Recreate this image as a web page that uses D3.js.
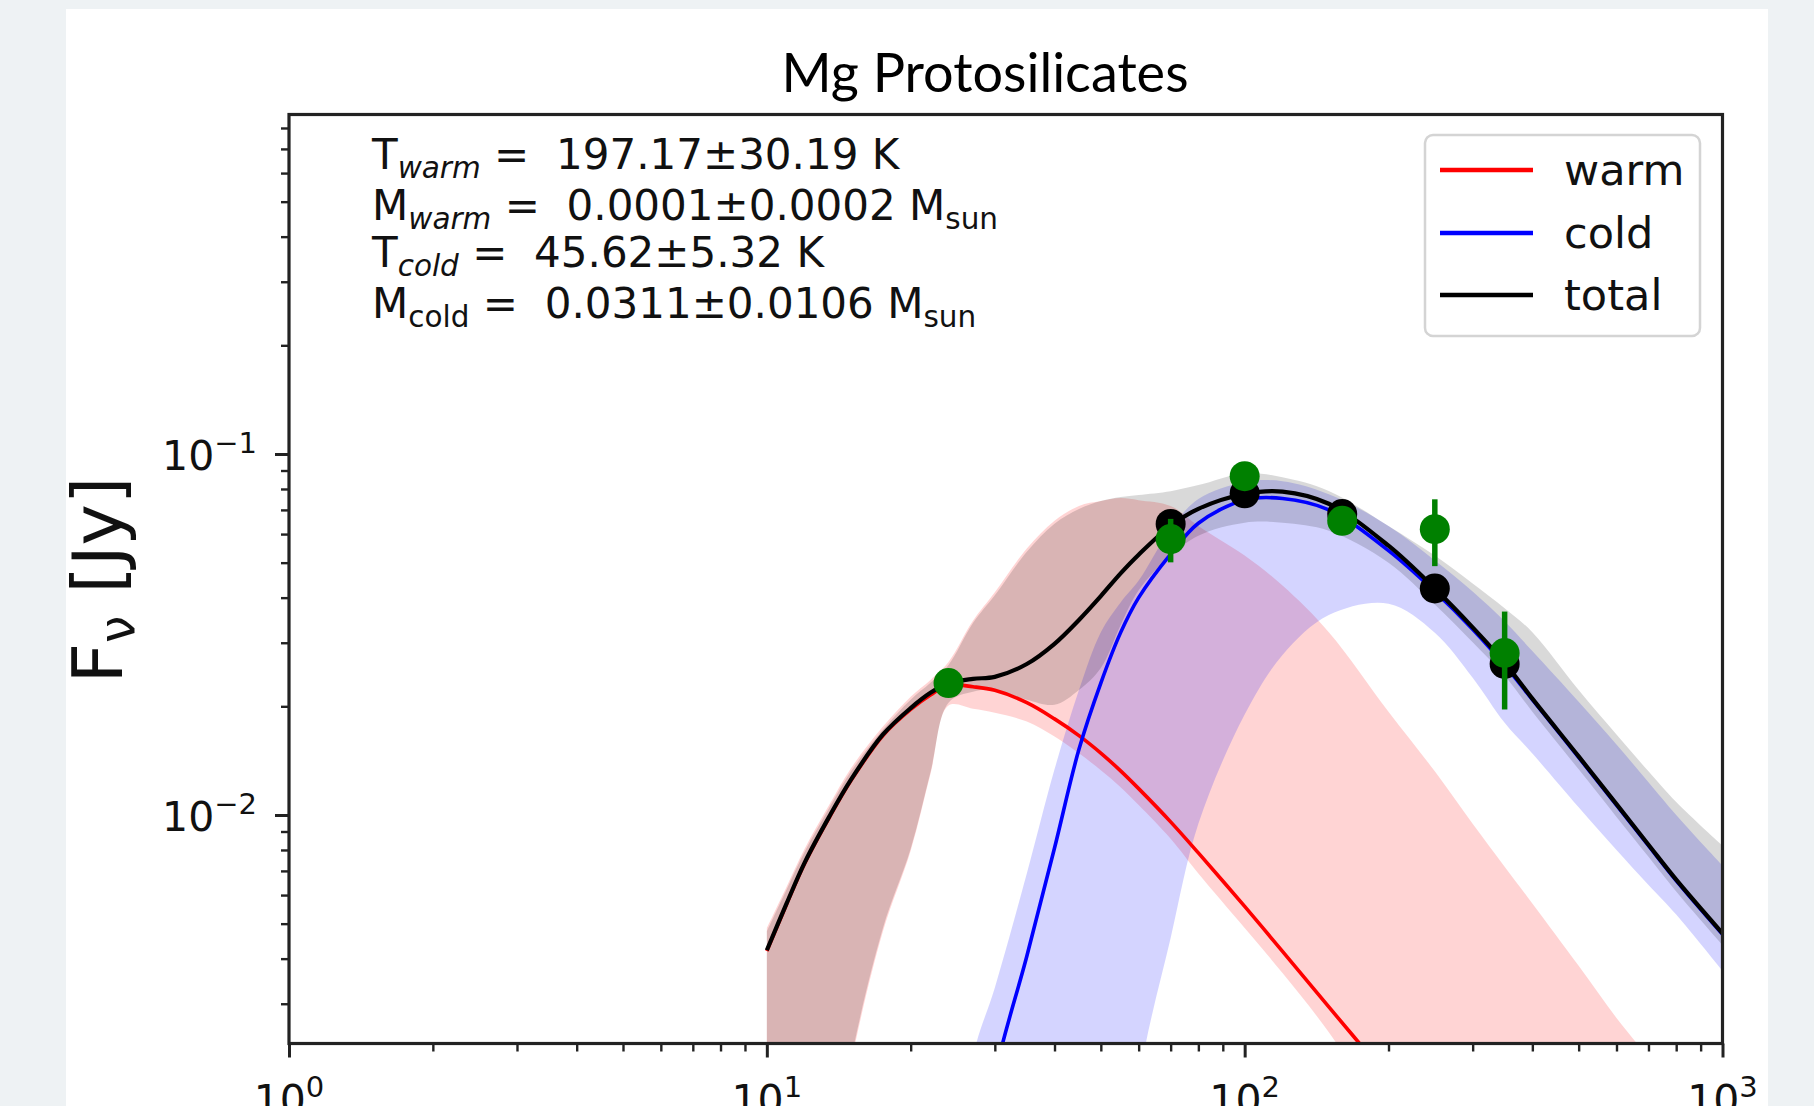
<!DOCTYPE html>
<html>
<head>
<meta charset="utf-8">
<script src="https://cdn.jsdelivr.net/npm/d3@7"></script>
<style>
  html, body { margin: 0; padding: 0; background: #eef2f4; }
  svg { display: block; }
</style>
</head>
<body>
<svg id="chart" width="1814" height="1106"></svg>
<script>
// wavelength grid (micron) used by the shaded bands
const bandLam = [10, 11, 12, 13.5, 15, 17.5, 20, 22, 24, 27, 30, 35, 40, 45, 50, 55, 60, 70, 80, 100, 120, 150, 200, 250, 300, 350, 400, 500, 600, 700, 800, 1000];

// warm component range (red)
const warmLo = [0.0004, 0.0005, 0.0006, 0.0009, 0.00205, 0.00476, 0.00796, 0.01298, 0.0201, 0.0197, 0.0192, 0.01815, 0.0165, 0.01482, 0.0133, 0.01194, 0.01065, 0.00859, 0.00688, 0.00486, 0.00365, 0.0025, 0.0014, 0.0009, 0.0006, 0.0005, 0.0004, 0.0003, 0.0002, 0.0002, 0.0001, 0.0001];
const warmHi = [0.00486, 0.00633, 0.00806, 0.01065, 0.01347, 0.01758, 0.02127, 0.02367, 0.02654, 0.0345, 0.0414, 0.0547, 0.0653, 0.0718, 0.0741, 0.0755, 0.0745, 0.0718, 0.0632, 0.0523, 0.0432, 0.0321, 0.01933, 0.01321, 0.00945, 0.00719, 0.00569, 0.00382, 0.00274, 0.00213, 0.00171, 0.0012];

// cold component range (blue)
const coldLo = [0.0004, 0.0004, 0.0004, 0.0004, 0.0004, 0.0004, 0.0004, 0.0004, 0.0004, 0.0004, 0.0004, 0.0004, 0.0004, 0.0004, 0.0004, 0.0004, 0.0018, 0.00456, 0.00945, 0.01897, 0.02774, 0.0358, 0.0385, 0.0320, 0.0240, 0.0180, 0.0148, 0.0105, 0.0080, 0.0064, 0.0053, 0.0037];
const coldHi = [0.0005, 0.0005, 0.0005, 0.0005, 0.0005, 0.0005, 0.0005, 0.0005, 0.0005, 0.00213, 0.00332, 0.00688, 0.01338, 0.0222, 0.0321, 0.0388, 0.0446, 0.0620, 0.0750, 0.0836, 0.0841, 0.0774, 0.0632, 0.0507, 0.0416, 0.0344, 0.02845, 0.0206, 0.01568, 0.01232, 0.0100, 0.00724];

// total range (grey)
const totalLo = [0.0004, 0.0005, 0.0006, 0.0009, 0.0021, 0.00486, 0.00806, 0.01314, 0.02047, 0.02194, 0.0222, 0.02086, 0.0202, 0.0222, 0.02555, 0.03355, 0.0419, 0.0523, 0.0594, 0.0645, 0.0645, 0.0613, 0.0500, 0.0383, 0.0301, 0.0243, 0.01933, 0.01338, 0.00988, 0.00766, 0.00614, 0.00436];
const totalHi = [0.00476, 0.00622, 0.00791, 0.01045, 0.01321, 0.01725, 0.02086, 0.02323, 0.02603, 0.0340, 0.0406, 0.0536, 0.0641, 0.0704, 0.0741, 0.0760, 0.0770, 0.0789, 0.0820, 0.0885, 0.0862, 0.0790, 0.0632, 0.0523, 0.0438, 0.0374, 0.0321, 0.0222, 0.01671, 0.01321, 0.01086, 0.00822];

// best fit curves
const totalFlux = [0.00422, 0.00569, 0.00738, 0.00988, 0.01253, 0.01671, 0.01978, 0.0218, 0.02316, 0.02383, 0.02413, 0.0262, 0.0298, 0.0347, 0.0404, 0.0467, 0.0526, 0.0632, 0.0705, 0.0775, 0.0787, 0.0728, 0.0557, 0.0424, 0.0331, 0.0264, 0.0210, 0.01453, 0.01072, 0.00827, 0.00662, 0.00470];

const warmLam = [10, 11, 12, 13.5, 15, 17.5, 20, 22, 24, 27, 30, 35, 40, 45, 50, 55, 60, 70, 80, 100, 120, 150, 200];
const warmFlux = [0.00420, 0.00566, 0.00734, 0.00982, 0.01245, 0.0166, 0.0196, 0.0215, 0.0229, 0.02265, 0.02215, 0.02047, 0.01846, 0.01659, 0.01484, 0.01325, 0.01183, 0.00957, 0.00785, 0.00558, 0.00419, 0.00294, 0.00187];

const coldLam = [27, 30, 35, 40, 45, 50, 55, 60, 70, 80, 100, 120, 150, 200, 250, 300, 350, 400, 500, 600, 700, 800, 1000];
const coldFlux = [0.0008, 0.0019, 0.00406, 0.0081, 0.0152, 0.0232, 0.0320, 0.0400, 0.0528, 0.0643, 0.0746, 0.0753, 0.0700, 0.0540, 0.0416, 0.0327, 0.0260, 0.02086, 0.01444, 0.01065, 0.00822, 0.00658, 0.00467];

// photometry
const obsLam = [24, 70, 100, 160, 250, 350];
const obsFlux = [0.0232, 0.0581, 0.0868, 0.0653, 0.0619, 0.0281];
const obsErr = [0.0008, 0.008, 0.003, 0.0025, 0.013, 0.0085];

// model fluxes in the bands
const modelLam = [70, 100, 160, 250, 350];
const modelFlux = [0.0640, 0.0778, 0.0682, 0.0424, 0.0262];

const legendLabels = ["warm", "cold", "total"];
const legendColors = ["#ff0000", "#0000ff", "#000000"];

const fitLines = [
  "T|warm|i| =  197.17±30.19 K|",
  "M|warm|i| =  0.0001±0.0002 M|sun",
  "T|cold|i| =  45.62±5.32 K|",
  "M|cold|n| =  0.0311±0.0106 M|sun"
];

// ---------------------------------------------------------------
const svg = d3.select("#chart");
const W = 1814, H = 1106;
const plot = { left: 289, right: 1722.5, top: 114.5, bottom: 1043.5 };

svg.append("rect").attr("width", W).attr("height", H).attr("fill", "#eef2f4");
svg.append("rect").attr("x", 66).attr("y", 9).attr("width", 1702).attr("height", H).attr("fill", "#ffffff");

const x = d3.scaleLog().domain([1, 1000]).range([plot.left, plot.right]);
const y = d3.scaleLog().domain([0.002328, 0.8718]).range([plot.bottom, plot.top]);

svg.append("defs").append("clipPath").attr("id", "clip")
  .append("rect")
  .attr("x", plot.left).attr("y", plot.top)
  .attr("width", plot.right - plot.left).attr("height", plot.bottom - plot.top);

const g = svg.append("g").attr("clip-path", "url(#clip)");
const smooth = d3.curveCatmullRom.alpha(0.5);

// bands
const band = (lo, hi) => bandLam.map((l, i) => ({ lam: l, lo: lo[i], hi: hi[i] }));
const area = d3.area()
  .x(d => x(d.lam))
  .y0(d => y(d.lo))
  .y1(d => y(d.hi))
  .curve(smooth);

g.append("path").attr("d", area(band(warmLo, warmHi))).attr("fill", "#ff0000").attr("fill-opacity", 0.17);
g.append("path").attr("d", area(band(coldLo, coldHi))).attr("fill", "#0000ff").attr("fill-opacity", 0.17);
g.append("path").attr("d", area(band(totalLo, totalHi))).attr("fill", "#000000").attr("fill-opacity", 0.15);

// curves
const line = d3.line().x(d => x(d[0])).y(d => y(d[1])).curve(smooth);
g.append("path").attr("d", line(warmLam.map((l, i) => [l, warmFlux[i]])))
  .attr("fill", "none").attr("stroke", "#ff0000").attr("stroke-width", 3.6);
g.append("path").attr("d", line(coldLam.map((l, i) => [l, coldFlux[i]])))
  .attr("fill", "none").attr("stroke", "#0000ff").attr("stroke-width", 3.6);
g.append("path").attr("d", line(bandLam.map((l, i) => [l, totalFlux[i]])))
  .attr("fill", "none").attr("stroke", "#000000").attr("stroke-width", 4.2);

// model points
g.selectAll(".model").data(modelLam).enter().append("circle")
  .attr("cx", d => x(d))
  .attr("cy", (d, i) => y(modelFlux[i]))
  .attr("r", 15)
  .attr("fill", "#000000");

// observed points with error bars
g.selectAll(".err").data(obsLam).enter().append("line")
  .attr("x1", d => x(d)).attr("x2", d => x(d))
  .attr("y1", (d, i) => y(obsFlux[i] + obsErr[i]))
  .attr("y2", (d, i) => y(obsFlux[i] - obsErr[i]))
  .attr("stroke", "#008000").attr("stroke-width", 5.5);
g.selectAll(".obs").data(obsLam).enter().append("circle")
  .attr("cx", d => x(d))
  .attr("cy", (d, i) => y(obsFlux[i]))
  .attr("r", 15)
  .attr("fill", "#008000");

// axes
const xMajor = [1, 10, 100, 1000];
const xMinor = [];
[1, 10, 100].forEach(b => { for (let k = 2; k <= 9; k++) xMinor.push(b * k); });
const yMajor = [0.01, 0.1];
const yMinor = [];
[0.001, 0.01, 0.1].forEach(b => { for (let k = 2; k <= 9; k++) { const v = b * k; if (v > y.domain()[0] && v < y.domain()[1]) yMinor.push(v); } });

const axisStyle = sel => {
  sel.select(".domain").remove();
  sel.selectAll("line").attr("stroke", "#222");
  sel.selectAll("text").remove();
};

svg.append("g").attr("transform", `translate(0,${plot.bottom})`)
  .call(d3.axisBottom(x).tickValues(xMajor).tickSize(14).tickFormat(""))
  .call(axisStyle).selectAll("line").attr("stroke-width", 3);
svg.append("g").attr("transform", `translate(0,${plot.bottom})`)
  .call(d3.axisBottom(x).tickValues(xMinor).tickSize(8).tickFormat(""))
  .call(axisStyle).selectAll("line").attr("stroke-width", 2.4);
svg.append("g").attr("transform", `translate(${plot.left},0)`)
  .call(d3.axisLeft(y).tickValues(yMajor).tickSize(14).tickFormat(""))
  .call(axisStyle).selectAll("line").attr("stroke-width", 3);
svg.append("g").attr("transform", `translate(${plot.left},0)`)
  .call(d3.axisLeft(y).tickValues(yMinor).tickSize(8).tickFormat(""))
  .call(axisStyle).selectAll("line").attr("stroke-width", 2.4);

// frame
svg.append("rect")
  .attr("x", plot.left).attr("y", plot.top)
  .attr("width", plot.right - plot.left).attr("height", plot.bottom - plot.top)
  .attr("fill", "none").attr("stroke", "#222").attr("stroke-width", 3.2);

// tick labels
const font = "DejaVu Sans, sans-serif";
xMajor.forEach(v => {
  const t = svg.append("text")
    .attr("x", x(v)).attr("y", 1114)
    .attr("text-anchor", "middle")
    .attr("font-family", font).attr("font-size", 41).attr("fill", "#111");
  t.append("tspan").text("10");
  t.append("tspan").attr("dy", -17).attr("font-size", 29).text(String(Math.round(Math.log10(v))));
});
yMajor.forEach(v => {
  const t = svg.append("text")
    .attr("x", 257).attr("y", y(v) + 16)
    .attr("text-anchor", "end")
    .attr("font-family", font).attr("font-size", 41).attr("fill", "#111");
  t.append("tspan").text("10");
  t.append("tspan").attr("dy", -17).attr("font-size", 29).text("\u2212" + Math.abs(Math.round(Math.log10(v))));
});

// y label
const yl = svg.append("text")
  .attr("transform", "translate(122,580) rotate(-90)")
  .attr("text-anchor", "middle")
  .attr("font-family", font).attr("font-size", 70).attr("fill", "#111");
yl.append("tspan").text("F");
yl.append("tspan").attr("dy", 12).attr("font-size", 49).text("\u03bd");
yl.append("tspan").attr("dy", -12).text(" [Jy]");

// title
svg.append("text")
  .attr("x", 985).attr("y", 92)
  .attr("text-anchor", "middle")
  .attr("font-family", "Lato, 'Open Sans', sans-serif").attr("font-size", 54).attr("fill", "#000")
  .text("Mg Protosilicates");

// fit results
const fitBase = [169, 220, 267, 318];
fitLines.forEach((s, i) => {
  const [a, sub, style, rest, sub2] = s.split("|");
  const t = svg.append("text")
    .attr("x", 372).attr("y", fitBase[i])
    .attr("font-family", font).attr("font-size", 42).attr("fill", "#111")
    .attr("xml:space", "preserve");
  t.append("tspan").text(a);
  t.append("tspan").attr("dy", 9).attr("font-size", 29.5)
    .attr("font-style", style === "i" ? "italic" : "normal").text(sub);
  t.append("tspan").attr("dy", -9).text(rest);
  if (sub2) t.append("tspan").attr("dy", 9).attr("font-size", 29.5).text(sub2);
});

// legend
const lg = svg.append("g");
lg.append("rect")
  .attr("x", 1425).attr("y", 135).attr("width", 275).attr("height", 201)
  .attr("rx", 8).attr("fill", "#fff").attr("fill-opacity", 0.85)
  .attr("stroke", "#d4d4d4").attr("stroke-width", 2.5);
const rowY = [170, 233, 295];
legendLabels.forEach((lab, i) => {
  lg.append("line")
    .attr("x1", 1440).attr("x2", 1533).attr("y1", rowY[i]).attr("y2", rowY[i])
    .attr("stroke", legendColors[i]).attr("stroke-width", 4.5);
  lg.append("text")
    .attr("x", 1564).attr("y", rowY[i] + 15)
    .attr("font-family", font).attr("font-size", 43).attr("fill", "#111")
    .text(lab);
});
</script>
</body>
</html>
